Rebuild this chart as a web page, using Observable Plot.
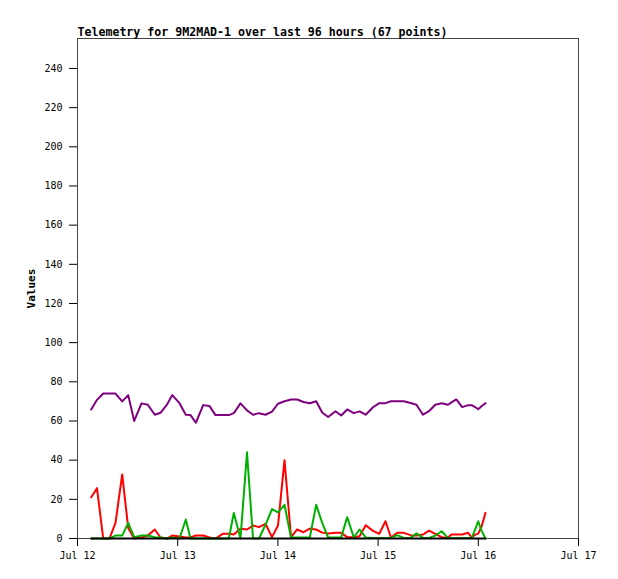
<!DOCTYPE html>
<html><head><meta charset="utf-8">
<script src="https://cdn.jsdelivr.net/npm/d3@7"></script>
<script src="https://cdn.jsdelivr.net/npm/@observablehq/plot@0.6"></script>
<style>body{margin:0;background:#fff}</style>
</head><body><div id="chart"></div>
<script>
const title = "Telemetry for 9M2MAD-1 over last 96 hours (67 points)";
const yLabel = "Values";
const startDate = "2023-07-12T00:00:00Z";
// hours after Jul 12 00:00
const hours = [3.28,4.67,6.16,7.66,9.10,10.71,12.14,13.58,15.33,16.84,18.51,19.88,21.48,22.68,24.43,25.94,27.07,28.34,30.11,31.62,33.05,34.80,36.24,37.44,39.04,40.60,42.04,43.47,45.03,46.59,48.02,49.58,51.14,52.62,54.13,55.64,57.17,58.61,60.05,61.80,63.16,64.60,66.18,67.54,69.05,70.78,72.29,73.77,75.09,76.57,78.15,79.76,81.20,82.75,84.19,85.70,87.23,88.74,89.58,90.73,92.14,93.58,94.42,95.33,95.98,96.77,97.72];
const purpleSeries = [65.9,70.8,74,74,74,70,73.2,60,69,68.3,63.2,64.2,68.5,73.2,69.1,63.2,63,59.1,68.1,67.6,63,63,63,64,69,65.4,63.2,64,63.2,64.8,68.8,70.1,71,71,69.7,69.1,70.1,64.3,62,65,62.8,65.9,64,64.9,63.2,67,69.1,69.1,70.1,70.1,70.1,69.2,68.3,63.2,65,68.3,69.1,68.3,69.5,71,67.1,68.1,68.1,67,66,67.5,69.1];
const redSeries = [21.1,25.7,0,0,8,32.7,5.4,0,0.5,1.5,4.6,0.5,0,1.5,1,0.5,0.5,1.5,1.5,0.5,0,2.4,2.4,2,5,4.6,6.6,5.8,7.5,0.7,6.6,40,0.7,4.6,3.2,5,4.6,3.0,2.5,2.9,2.9,0.7,0.7,1.2,6.8,3.9,2.4,8.8,0.5,2.9,2.9,1.7,1.5,2,4,2.4,0.7,0.5,2,2,2,2.9,0.5,2,2.5,6,13.1];
const greenSeries = [0,0,0,0,1.5,1.5,8,0.7,1.5,1.5,0.7,0.5,0,0.5,0,9.7,0,0,0,0,0,0,0,13,0,44,0,0,7,15,13.3,17.2,0.5,0.5,0.5,0.5,17.2,8,0.5,0.5,0.5,10.9,0.5,4.6,0.5,0.3,0.3,0.3,0.3,1.7,0.3,0.3,2.6,0.3,0.3,1.5,3.7,0.3,0.3,0.3,0.3,0.3,0.3,5,8.8,4,0];
const blackSeries = [0,0,0,0,0,0,0,0,0,0,0,0,0,0,0,0,0,0,0,0,0,0,0,0,0,0,0,0,0,0,0,0,0,0,0,0,0,0,0,0,0,0,0,0,0,0,0,0,0,0,0,0,0,0,0,0,0,0,0,0,0,0,0,0,0,0,0];
const xTickDates = ["2023-07-12","2023-07-13","2023-07-14","2023-07-15","2023-07-16","2023-07-17"];
const yTicks = [0,20,40,60,80,100,120,140,160,180,200,220,240];

const t0 = new Date(startDate).getTime();
const times = hours.map(h => new Date(t0 + h * 3600e3));
const mk = (vals) => vals.map((v, i) => ({t: times[i], v}));
const series = [
  {data: mk(purpleSeries), color: "#7f007f"},
  {data: mk(redSeries), color: "#ff0000"},
  {data: mk(greenSeries), color: "#00b000"},
  {data: mk(blackSeries), color: "#000000"}
];
const xTicks = xTickDates.map(d => new Date(d + "T00:00:00Z"));
const fmt = d3.utcFormat("%b %d");

const chart = Plot.plot({
  width: 618, height: 579,
  marginLeft: 77, marginRight: 40, marginTop: 38, marginBottom: 41,
  style: {fontFamily: "DejaVu Sans Mono", fontSize: "10px", background: "#fff", color: "#000"},
  x: {type: "utc", domain: [xTicks[0], xTicks[xTicks.length - 1]]},
  y: {domain: [0, 255.3]},
  marks: [
    Plot.frame({stroke: "#444"}),
    Plot.axisX({ticks: xTicks, tickFormat: fmt, tickSize: 8, tickPadding: 5, label: null, stroke: "#000"}),
    Plot.axisY({ticks: yTicks, tickSize: 8, tickPadding: 7, label: null}),
    ...series.map(s => Plot.line(s.data, {x: "t", y: "v", stroke: s.color, strokeWidth: 2, curve: "linear"})),
    Plot.text([title], {frameAnchor: "top-left", textAnchor: "start", lineAnchor: "bottom", dy: -3, fontWeight: "bold", fontSize: 11.6}),
    Plot.text([yLabel], {frameAnchor: "left", textAnchor: "middle", rotate: -90, dx: -46, fontWeight: "bold", fontSize: 11})
  ]
});
document.getElementById("chart").appendChild(chart);
</script>
</body></html>
